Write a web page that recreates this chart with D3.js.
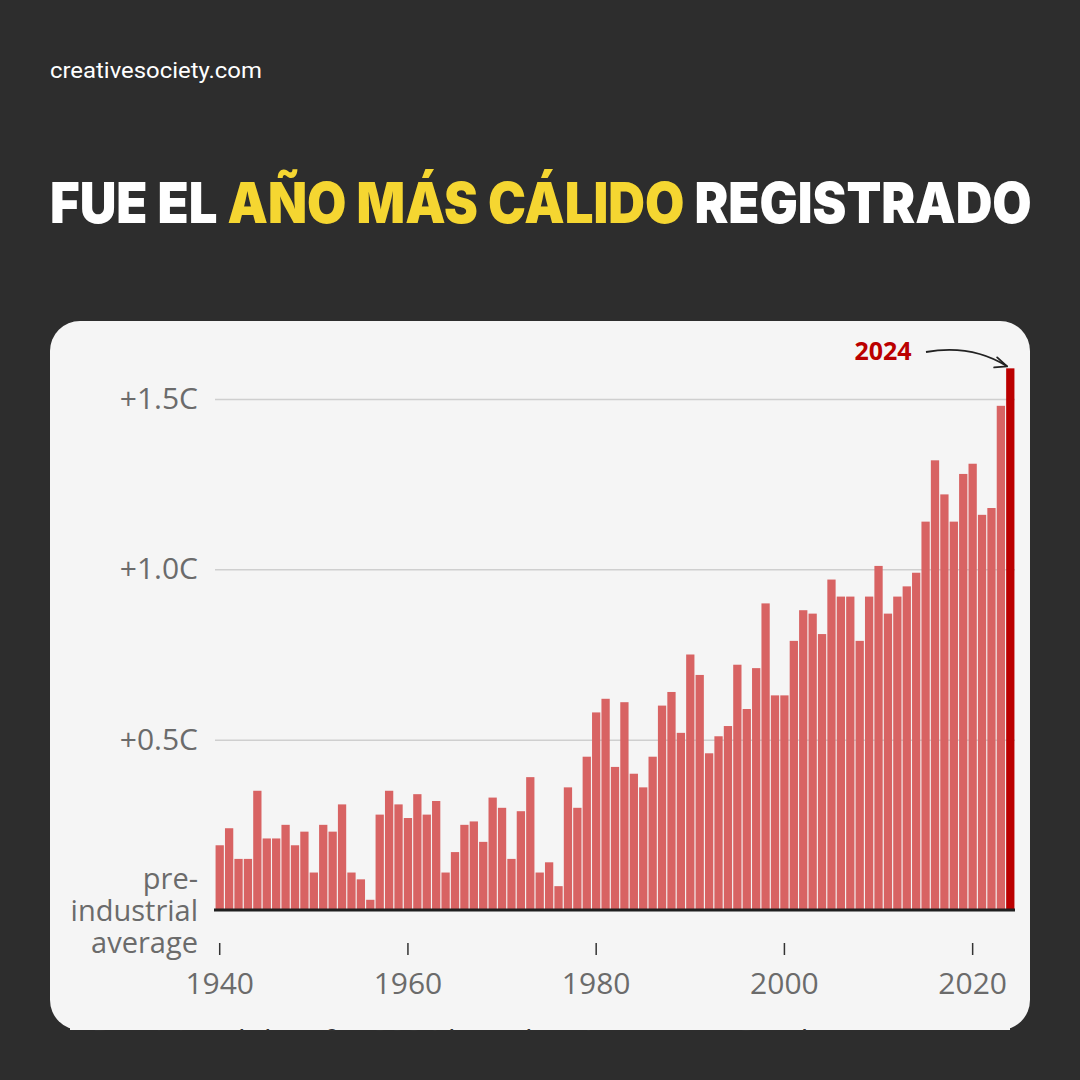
<!DOCTYPE html>
<html>
<head>
<meta charset="utf-8">
<script src="https://cdn.jsdelivr.net/npm/d3@7"></script>
<style>
  html, body { margin: 0; padding: 0; background: #2d2d2d; }
  svg { display: block; }
</style>
</head>
<body>
<svg id="chart" width="1080" height="1080"></svg>
<script>
// ---- data ----
const years = d3.range(1940, 2025);
const anomalies = [
  0.19, 0.24, 0.15, 0.15, 0.35, 0.21, 0.21, 0.25, 0.19, 0.23,
  0.11, 0.25, 0.23, 0.31, 0.11, 0.09, 0.03, 0.28, 0.35, 0.31,
  0.27, 0.34, 0.28, 0.32, 0.11, 0.17, 0.25, 0.26, 0.20, 0.33,
  0.30, 0.15, 0.29, 0.39, 0.11, 0.14, 0.07, 0.36, 0.30, 0.45,
  0.58, 0.62, 0.42, 0.61, 0.40, 0.36, 0.45, 0.60, 0.64, 0.52,
  0.75, 0.69, 0.46, 0.51, 0.54, 0.72, 0.59, 0.71, 0.90, 0.63,
  0.63, 0.79, 0.88, 0.87, 0.81, 0.97, 0.92, 0.92, 0.79, 0.92,
  1.01, 0.87, 0.92, 0.95, 0.99, 1.14, 1.32, 1.22, 1.14, 1.28,
  1.31, 1.16, 1.18, 1.48, 1.59
];
const yTicks = [0.5, 1.0, 1.5];
const yTickLabels = ["+0.5C", "+1.0C", "+1.5C"];
const xTicks = [1940, 1960, 1980, 2000, 2020];
const baselineLabel = ["pre-", "industrial", "average"];
const highlightYear = 2024;
const siteText = "creativesociety.com";
const titleParts = [
  { text: "FUE EL ", color: "#ffffff" },
  { text: "AÑO MÁS CÁLIDO", color: "#f5d631" },
  { text: " REGISTRADO", color: "#ffffff" }
];
const footText = "Provisional data for 2024 based on January to October";

// ---- layout ----
const svg = d3.select("#chart");
const sans = "'Open Sans', 'Noto Sans', sans-serif";

svg.append("rect").attr("width", 1080).attr("height", 1080).attr("fill", "#2d2d2d");

// site label
const site = svg.append("text")
  .attr("x", 0).attr("y", 0)
  .attr("fill", "#ffffff")
  .attr("font-family", "Roboto, sans-serif")
  .attr("font-size", 22)
  .text(siteText);
const sw = site.node().getComputedTextLength();
site.attr("transform", `translate(50,78) scale(${212 / sw},1)`);

// title, stretched to fit
const title = svg.append("text")
  .attr("font-family", "Inter, Lato, sans-serif")
  .attr("font-weight", 900)
  .attr("font-size", 57)
  .attr("x", 0).attr("y", 0)
  .attr("xml:space", "preserve");
titleParts.forEach(p => {
  title.append("tspan").attr("fill", p.color).style("white-space", "pre").text(p.text);
});
const tw = title.node().getComputedTextLength();
title.attr("transform", `translate(50,223) scale(${982 / tw},1)`);

// card
const cardX = 50, cardY = 321, cardW = 980, cardH = 709;
svg.append("rect")
  .attr("x", cardX).attr("y", cardY).attr("width", cardW).attr("height", cardH)
  .attr("rx", 30).attr("ry", 30)
  .attr("fill", "#f5f5f5");

// clipped footnote fragment
const defs = svg.append("defs");
defs.append("clipPath").attr("id", "footclip")
  .append("rect").attr("x", 60).attr("y", 1024).attr("width", 960).attr("height", 7);
svg.append("rect").attr("x", 70).attr("y", 1026).attr("width", 940).attr("height", 4).attr("fill", "#f5f5f5");
svg.append("text")
  .attr("clip-path", "url(#footclip)")
  .attr("x", 92).attr("y", 1051)
  .attr("font-family", sans).attr("font-size", 30)
  .attr("fill", "#333")
  .text(footText);

// scales
const x = d3.scaleBand().domain(years).range([215, 1015]).paddingInner(0.12).paddingOuter(0.06);
const y = d3.scaleLinear().domain([0, 1.5]).range([910, 399]);

// y axis with gridlines
const yAxis = d3.axisLeft(y)
  .tickValues(yTicks)
  .tickSize(-800)
  .tickPadding(17)
  .tickFormat((d, i) => yTickLabels[i]);
const gy = svg.append("g").attr("transform", "translate(215,0)").call(yAxis);
gy.select(".domain").remove();
gy.selectAll(".tick line").attr("stroke", "#cfcfcf").attr("stroke-width", 1.5);
gy.selectAll(".tick text")
  .attr("fill", "#6b6b6b")
  .attr("font-family", sans)
  .attr("font-size", 30);

// bars
svg.append("g").selectAll("rect")
  .data(years.map((yr, i) => ({ year: yr, value: anomalies[i] })))
  .join("rect")
  .attr("x", d => x(d.year))
  .attr("width", x.bandwidth())
  .attr("y", d => y(d.value))
  .attr("height", d => y(0) - y(d.value))
  .attr("fill", d => d.year === highlightYear ? "#bb0000" : "#d86363");

// baseline
svg.append("line")
  .attr("x1", 214).attr("x2", 1015)
  .attr("y1", y(0)).attr("y2", y(0))
  .attr("stroke", "#1f1f1f").attr("stroke-width", 3);

// x axis
const xAxis = d3.axisBottom(x)
  .tickValues(xTicks)
  .tickSize(12)
  .tickPadding(18);
const gx = svg.append("g").attr("transform", "translate(0,943)").call(xAxis);
gx.select(".domain").remove();
gx.selectAll(".tick line").attr("stroke", "#333").attr("stroke-width", 1.5);
gx.selectAll(".tick text")
  .attr("fill", "#6b6b6b")
  .attr("font-family", sans)
  .attr("font-size", 30);

// baseline label
const bl = svg.append("text")
  .attr("text-anchor", "end")
  .attr("fill", "#6b6b6b")
  .attr("font-family", sans)
  .attr("font-size", 29);
baselineLabel.forEach((t, i) => {
  bl.append("tspan").attr("x", 198).attr("y", 889 + i * 32).text(t);
});

// 2024 annotation
const hx = x(highlightYear);
const hy = y(anomalies[years.indexOf(highlightYear)]);
svg.append("text")
  .attr("x", 883).attr("y", 360)
  .attr("text-anchor", "middle")
  .attr("fill", "#bb0000")
  .attr("font-family", sans)
  .attr("font-weight", 700)
  .attr("font-size", 25)
  .text(String(highlightYear));
const ax1 = 926, ay1 = 352, ax2 = hx + 1, ay2 = hy - 2;
svg.append("path")
  .attr("d", `M${ax1},${ay1} Q${(ax1 + ax2) / 2 + 5},${ay1 - 8} ${ax2},${ay2}`)
  .attr("fill", "none").attr("stroke", "#222").attr("stroke-width", 1.8);
svg.append("path")
  .attr("d", `M${ax2 - 10},${ay2 - 9} L${ax2},${ay2} L${ax2 - 13},${ay2 + 1}`)
  .attr("fill", "none").attr("stroke", "#222").attr("stroke-width", 1.8)
  .attr("stroke-linejoin", "round").attr("stroke-linecap", "round");
</script>
</body>
</html>
